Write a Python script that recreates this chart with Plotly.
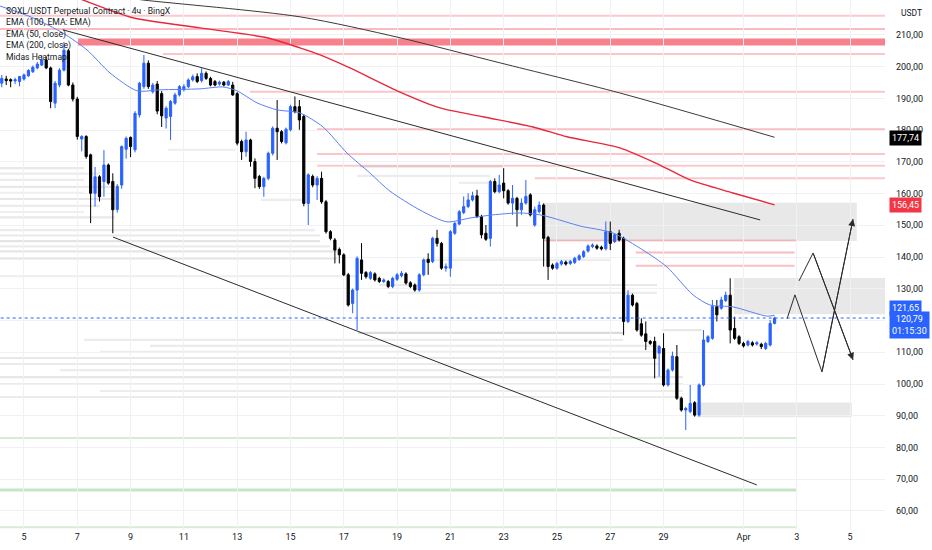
import pandas as pd
import plotly.graph_objects as go

# SOXL/USDT perpetual (BingX), 4h bars, first bar 2025-03-04 04:00
opens = [194.8, 196.1, 195.9, 195.5, 195.3, 196.1, 197.1, 198.4, 199.6, 200.5,
         202.1, 199.6, 188.5, 194.2, 198.9, 205.0, 194.2, 189.8, 177.2, 178.0,
         172.2, 160.1, 165.3, 163.8, 169.0, 163.8, 155.0, 162.7, 174.0, 177.7,
         173.8, 184.8, 193.7, 201.1, 192.1, 194.5, 191.5, 183.8, 184.3, 188.5,
         191.1, 192.7, 193.7, 195.8, 196.9, 195.6, 197.9, 196.3, 195.3, 194.5,
         195.1, 194.2, 194.2, 191.5, 176.4, 173.2, 176.9, 170.1, 165.4, 162.2,
         164.8, 172.7, 180.6, 179.5, 176.0, 180.1, 187.4, 187.4, 184.3, 156.9,
         165.4, 162.7, 164.8, 157.4, 148.0, 145.4, 142.4, 140.7, 134.4, 125.4,
         129.6, 139.1, 135.1, 133.3, 134.7, 133.3, 132.3, 132.3, 130.7, 133.0,
         134.1, 134.7, 131.9, 131.2, 129.6, 134.4, 139.3, 138.6, 145.9, 144.3,
         136.5, 136.5, 147.5, 150.4, 154.0, 155.9, 158.0, 159.3, 152.8, 147.5,
         145.9, 163.8, 160.6, 163.3, 160.9, 157.0, 158.5, 154.9, 157.0, 159.6,
         150.1, 154.3, 156.4, 146.2, 137.5, 136.5, 137.8, 138.4, 138.0, 138.3,
         139.3, 140.2, 141.9, 143.3, 143.5, 143.1, 142.6, 148.0, 144.9, 147.5,
         145.9, 119.7, 128.0, 125.4, 119.0, 115.8, 113.4, 113.4, 109.7, 111.2,
         99.7, 104.4, 108.6, 95.5, 91.8, 91.3, 94.1, 90.2, 99.7, 113.4,
         114.4, 124.4, 123.9, 126.3, 128.0, 117.5, 114.9, 112.8, 112.3, 113.0,
         112.6, 112.5, 111.2, 112.3, 119.1]
highs = [197.4, 197.1, 196.3, 196.5, 197.1, 197.8, 199.2, 200.4, 201.5, 203.6,
         203.2, 200.0, 195.5, 199.5, 207.8, 205.6, 195.0, 190.5, 178.4, 178.4,
         172.6, 168.4, 165.8, 173.7, 169.5, 166.4, 163.0, 175.2, 178.0, 178.0,
         186.0, 195.2, 203.7, 202.0, 194.9, 195.5, 192.3, 187.5, 189.5, 191.8,
         194.2, 194.5, 196.3, 197.5, 197.9, 199.5, 198.5, 196.8, 195.8, 195.6,
         195.5, 195.8, 195.2, 192.0, 177.0, 179.5, 177.3, 171.1, 165.9, 165.3,
         173.2, 181.2, 189.5, 180.0, 180.8, 188.0, 190.6, 189.5, 185.0, 166.4,
         166.0, 165.5, 166.9, 158.0, 148.5, 146.0, 143.0, 141.2, 135.0, 130.1,
         140.2, 144.4, 135.6, 135.6, 135.2, 133.8, 133.3, 132.8, 133.8, 135.0,
         135.6, 135.2, 132.4, 131.7, 134.9, 139.6, 141.2, 146.4, 148.6, 144.8,
         138.0, 148.5, 151.1, 154.8, 159.1, 160.1, 160.6, 161.2, 153.3, 150.1,
         164.3, 164.8, 165.9, 168.0, 161.4, 162.7, 159.0, 158.5, 164.3, 160.1,
         155.9, 157.5, 156.9, 146.7, 138.0, 138.5, 139.1, 138.9, 139.1, 140.1,
         140.9, 142.2, 144.0, 144.3, 144.0, 143.6, 151.2, 151.2, 147.5, 148.6,
         146.4, 129.6, 128.5, 125.9, 120.7, 119.7, 113.9, 114.9, 112.3, 116.0,
         104.9, 110.2, 112.3, 96.0, 92.8, 99.7, 94.6, 100.2, 117.0, 115.4,
         126.5, 126.5, 127.5, 129.1, 133.3, 121.2, 115.4, 113.3, 113.9, 113.5,
         113.5, 113.0, 113.3, 120.2, 121.2]
lows = [193.5, 194.2, 193.5, 194.5, 193.8, 195.6, 196.8, 198.0, 199.2, 200.2,
        199.2, 186.9, 186.9, 193.5, 198.5, 193.8, 189.0, 177.0, 173.3, 171.0,
        150.7, 155.9, 157.5, 159.0, 162.8, 147.5, 154.0, 161.5, 171.0, 171.5,
        173.0, 184.0, 193.0, 193.0, 191.5, 185.0, 181.0, 180.5, 176.9, 188.0,
        190.6, 192.2, 193.2, 195.3, 194.8, 195.0, 195.8, 193.8, 193.8, 194.0,
        193.8, 193.9, 190.8, 175.2, 170.6, 171.6, 168.5, 161.7, 161.5, 159.0,
        164.2, 172.0, 170.6, 175.8, 175.5, 179.6, 185.3, 180.1, 156.0, 150.1,
        162.0, 158.0, 156.8, 147.4, 145.3, 138.0, 138.0, 134.0, 124.4, 122.3,
        117.0, 132.8, 133.2, 132.8, 132.3, 131.8, 131.8, 130.2, 130.2, 132.5,
        133.6, 131.3, 130.2, 129.1, 129.1, 133.9, 134.4, 138.1, 143.3, 136.0,
        135.4, 133.8, 147.0, 150.0, 153.5, 155.4, 157.5, 152.3, 145.9, 145.1,
        143.3, 160.1, 160.1, 158.5, 156.5, 153.3, 149.6, 153.3, 156.5, 152.8,
        149.6, 153.8, 137.0, 132.8, 136.0, 136.0, 137.3, 137.3, 137.5, 137.8,
        138.8, 139.7, 141.4, 142.8, 142.3, 142.1, 142.1, 142.2, 144.4, 144.9,
        115.4, 119.2, 124.4, 116.5, 114.9, 110.7, 112.3, 101.8, 102.3, 99.2,
        99.2, 103.9, 95.0, 91.3, 85.5, 90.8, 89.7, 89.7, 99.2, 112.9,
        113.9, 119.7, 123.4, 125.8, 112.8, 113.9, 112.3, 111.5, 111.8, 111.8,
        112.1, 111.0, 110.7, 111.8, 118.8]
closes = [196.3, 195.6, 195.5, 195.9, 196.9, 197.4, 198.8, 199.8, 200.8, 202.1,
          199.6, 189.0, 194.8, 198.9, 205.2, 194.2, 189.8, 178.0, 178.0, 171.7,
          160.1, 165.3, 159.0, 169.0, 163.3, 154.9, 162.3, 174.8, 177.4, 174.8,
          185.3, 194.8, 201.1, 193.7, 194.2, 186.0, 184.5, 186.9, 189.0, 191.1,
          193.7, 193.7, 195.8, 196.8, 195.3, 197.9, 196.3, 194.2, 194.2, 195.1,
          194.2, 195.3, 191.1, 175.9, 173.2, 176.9, 170.1, 164.8, 162.2, 164.8,
          172.7, 180.6, 179.5, 176.4, 180.3, 187.4, 185.8, 183.2, 156.9, 165.9,
          162.7, 164.8, 157.4, 148.0, 145.9, 142.2, 140.7, 134.4, 124.9, 129.6,
          139.6, 134.9, 133.8, 135.1, 132.8, 132.3, 132.8, 130.7, 133.3, 134.4,
          134.9, 131.8, 130.7, 129.6, 134.4, 139.1, 138.3, 145.9, 144.3, 136.5,
          137.0, 148.0, 150.6, 154.3, 155.9, 158.0, 159.3, 152.8, 147.0, 145.6,
          163.8, 160.6, 162.7, 160.9, 157.0, 158.5, 154.9, 157.0, 159.1, 153.3,
          154.9, 156.4, 145.9, 137.0, 136.5, 138.0, 138.6, 137.8, 138.6, 139.6,
          140.4, 141.7, 143.5, 143.8, 142.8, 142.6, 148.0, 144.3, 147.0, 145.4,
          119.7, 128.0, 124.9, 117.0, 115.4, 113.4, 112.8, 108.1, 111.8, 99.7,
          104.4, 108.8, 95.5, 91.8, 92.3, 93.9, 90.2, 99.7, 113.9, 114.9,
          124.4, 121.8, 126.5, 128.0, 117.0, 114.4, 112.8, 112.0, 113.4, 112.3,
          113.0, 111.8, 112.8, 119.1, 120.79]

# indicator lines
ema50_t = ["2025-03-04 02:24", "2025-03-05 08:00", "2025-03-06 11:00", "2025-03-07 08:40",
           "2025-03-08 05:30", "2025-03-09 05:45", "2025-03-10 02:30", "2025-03-11 14:30",
           "2025-03-12 11:15", "2025-03-12 23:50", "2025-03-13 17:50", "2025-03-14 11:50",
           "2025-03-15 08:30", "2025-03-16 05:20", "2025-03-17 02:50", "2025-03-17 23:30",
           "2025-03-18 17:30", "2025-03-19 20:40", "2025-03-20 20:50", "2025-03-21 17:40",
           "2025-03-22 14:20", "2025-03-23 14:40", "2025-03-24 08:40", "2025-03-24 20:20",
           "2025-03-25 20:40", "2025-03-27 02:20", "2025-03-28 05:30", "2025-03-29 03:00",
           "2025-03-30 02:30", "2025-03-30 17:45", "2025-03-31 14:30", "2025-04-01 21:00",
           "2025-04-02 04:00"]
ema50_v = [219.1, 215.4, 210.6, 205.3, 198.0, 192.4, 192.7, 193.0, 193.6, 192.4,
           188.6, 186.4, 185.4, 181.0, 172.8, 166.5, 160.8, 154.8, 151.1, 152.3,
           153.3, 153.9, 153.3, 152.3, 149.8, 147.6, 142.2, 136.9, 128.1, 124.9,
           124.3, 121.4, 121.65]

ema100_t = ["2025-03-08 14:00", "2025-03-09 11:10", "2025-03-15 08:30", "2025-03-19 02:40",
            "2025-03-22 20:40", "2025-03-27 08:40", "2025-04-02 04:00"]
ema100_v = [222.0, 221.0, 215.7, 209.1, 201.2, 191.7, 177.74]

ema200_t = ["2025-03-06 17:30", "2025-03-07 05:10", "2025-03-09 02:10", "2025-03-11 14:30",
            "2025-03-14 02:50", "2025-03-15 08:30", "2025-03-16 02:40", "2025-03-17 05:30",
            "2025-03-19 02:40", "2025-03-20 14:40", "2025-03-22 05:20", "2025-03-24 02:20",
            "2025-03-25 09:00", "2025-03-27 08:40", "2025-03-28 20:40", "2025-03-29 23:50",
            "2025-03-31 14:30", "2025-04-02 04:00"]
ema200_v = [222.6, 221.0, 215.4, 212.2, 209.1, 205.9, 203.7, 199.6, 192.0, 187.0,
            184.2, 181.0, 177.9, 174.4, 169.0, 164.3, 160.2, 156.45]

# channel
chan_top_t = ["2025-03-06 11:00", "2025-04-01 15:00"]
chan_top_v = [211.6, 151.7]
chan_bot_t = ["2025-03-08 08:10", "2025-04-01 12:00"]
chan_bot_v = [146.3, 68.2]

# projected paths
path_a_t = ["2025-04-02 15:10", "2025-04-02 22:20", "2025-04-03 22:40", "2025-04-05 02:40"]
path_a_v = [120.5, 128.1, 103.8, 152.0]
path_b_t = ["2025-04-03 02:00", "2025-04-03 14:40", "2025-04-05 02:40"]
path_b_v = [132.5, 141.3, 107.6]

# Midas heatmap levels: price, from, to, strength
L, R = "2025-03-03", "2025-04-07"
red_lvl = [216.0, 211.9, 207.8, 204.0, 192.1, 180.3, 172.5, 168.8, 164.8, 145.2, 141.4, 137.3]
red_from = [L, L, "2025-03-07 00:40", "2025-03-10 05:00", "2025-03-13 11:30", "2025-03-16 00:00",
            "2025-03-16 00:00", "2025-03-16 00:00", "2025-03-24 04:00", "2025-03-24 12:00",
            "2025-03-27 23:00", "2025-03-27 23:00"]
red_to = [R, R, R, R, R, R, R, R, R, "2025-04-03 00:00", "2025-04-02 22:00", "2025-04-02 22:00"]
red_str = [0.3, 0.45, 1.0, 0.35, 0.35, 0.4, 0.35, 0.3, 0.3, 0.3, 0.45, 0.4]

green_lvl = [83.0, 66.6, 54.9]
green_from = [L, L, L]
green_to = ["2025-04-03 00:00", "2025-04-03 00:00", "2025-04-03 00:00"]
green_str = [0.5, 0.7, 0.5]

grey_lvl = [168.0, 166.3, 164.3, 162.1, 160.2, 158.3, 156.1, 154.2, 152.5,
            148.5, 146.8, 145.0, 143.4, 141.8, 139.6, 134.0,
            139.1, 131.2, 128.7, 116.1, 117.0,
            113.9, 112.0, 110.1, 108.2, 106.3, 104.4, 102.2, 100.0, 97.8, 95.9,
            168.5, 165.6, 163.4, 158.0, 173.8]
grey_from = [L, L, L, L, L, L, L, L, L,
             L, L, L, L, L, L, L,
             "2025-03-19 21:30", "2025-03-18 07:40", "2025-03-18 15:50", "2025-03-17 13:00",
             "2025-03-28 22:30",
             "2025-03-07 06:00", "2025-03-09 17:30", "2025-03-07 20:30", L, L,
             "2025-03-06 08:30", L, L, "2025-03-07 20:30", L,
             "2025-03-17 14:40", "2025-03-17 12:00", "2025-03-21 07:40", "2025-03-13 21:20",
             "2025-03-10 09:40"]
grey_to = ["2025-03-07 06:00", "2025-03-07 20:30", "2025-03-07 06:00", "2025-03-08 10:00",
           "2025-03-07 06:00", "2025-03-08 10:00", "2025-03-07 20:30", "2025-03-07 06:00",
           "2025-03-08 10:00",
           "2025-03-15 22:00", "2025-03-16 02:40", "2025-03-16 02:40", "2025-03-16 11:30",
           "2025-03-16 17:50", "2025-03-16 17:50", "2025-03-17 12:00",
           "2025-03-27 00:00", "2025-03-28 18:00", "2025-03-28 18:00", "2025-03-27 11:30",
           "2025-03-30 10:30",
           "2025-03-27 11:30", "2025-03-28 20:40", "2025-03-28 20:40", "2025-03-28 20:40",
           "2025-03-28 20:40", "2025-03-27 00:00", "2025-03-29 17:30", "2025-03-29 17:30",
           "2025-03-29 17:30", "2025-03-29 17:30",
           "2025-03-22 23:20", "2025-03-22 11:40", "2025-03-22 09:50", "2025-03-15 11:20",
           "2025-03-12 22:50"]
grey_str = [0.5, 0.4, 0.45, 0.5, 0.35, 0.55, 0.45, 0.35, 0.5,
            0.4, 0.5, 0.6, 0.4, 0.55, 0.6, 0.35,
            0.4, 0.5, 0.4, 0.8, 0.5,
            0.4, 0.45, 0.4, 0.5, 0.45, 0.4, 0.55, 0.45, 0.4, 0.45,
            0.5, 0.4, 0.4, 0.4, 0.35]

# grey zones
zone_lo = [145.1, 122.0, 89.5]
zone_hi = [157.1, 133.4, 94.2]
zone_from = ["2025-03-24 11:20", "2025-03-31 15:20", "2025-03-30 06:00"]
zone_to = ["2025-04-05 06:00", R, "2025-04-05 01:40"]

tick_days = ["2025-03-05", "2025-03-07", "2025-03-09", "2025-03-11", "2025-03-13",
             "2025-03-15", "2025-03-17", "2025-03-19", "2025-03-21", "2025-03-23",
             "2025-03-25", "2025-03-27", "2025-03-29", "2025-04-01", "2025-04-03",
             "2025-04-05"]
tick_text = ["5", "7", "9", "11", "13", "15", "17", "19", "21", "23", "25", "27", "29",
             "Apr", "3", "5"]
price_ticks = [60, 70, 80, 90, 100, 110, 120, 130, 140, 150, 160, 170, 180, 190, 200, 210]

BLUE = "#2962ff"
INK = "#131722"
FONT = "Roboto"

times = pd.date_range("2025-03-04 04:00", periods=len(closes), freq="4h")

shapes = []


def hline(p, x0, x1, color, width):
    shapes.append(dict(type="line", xref="x", yref="y", x0=x0, x1=x1, y0=p, y1=p,
                       line=dict(color=color, width=width), layer="below"))


for p, a, b, s in zip(grey_lvl, grey_from, grey_to, grey_str):
    hline(p, a, b, "rgba(120,120,120,%.2f)" % (0.34 * s), 2.2)
for lo, hi, a, b in zip(zone_lo, zone_hi, zone_from, zone_to):
    shapes.append(dict(type="rect", xref="x", yref="y", x0=a, x1=b, y0=lo, y1=hi,
                       fillcolor="rgba(200,200,200,0.42)", line=dict(width=0), layer="below"))
for p, a, b, s in zip(red_lvl, red_from, red_to, red_str):
    w = 2 + 5 * max(0, s - 0.5) / 0.5
    hline(p, a, b, "rgba(242,54,69,%.2f)" % (0.12 + 0.5 * s), w)
for p, a, b, s in zip(green_lvl, green_from, green_to, green_str):
    hline(p, a, b, "rgba(76,175,80,%.2f)" % (0.45 * s), 2 + 1.0 * (s > 0.6))

fig = go.Figure()
fig.add_trace(go.Candlestick(
    x=times, open=opens, high=highs, low=lows, close=closes,
    increasing=dict(line=dict(color=BLUE, width=1), fillcolor=BLUE),
    decreasing=dict(line=dict(color="#000000", width=1), fillcolor="#000000"),
    whiskerwidth=0, hoverinfo="skip"))

fig.add_trace(go.Scatter(x=ema50_t, y=ema50_v, mode="lines",
                         line=dict(color="#5a7ff2", width=1, shape="spline", smoothing=0.7)))
fig.add_trace(go.Scatter(x=ema100_t, y=ema100_v, mode="lines",
                         line=dict(color="#3a3a3a", width=1, shape="spline", smoothing=0.8)))
fig.add_trace(go.Scatter(x=ema200_t, y=ema200_v, mode="lines",
                         line=dict(color="#e8283c", width=1.4, shape="spline", smoothing=0.7)))
for tt, vv in [(chan_top_t, chan_top_v), (chan_bot_t, chan_bot_v)]:
    fig.add_trace(go.Scatter(x=tt, y=vv, mode="lines", line=dict(color="#2b2b2b", width=1)))
for tt, vv in [(path_a_t, path_a_v), (path_b_t, path_b_v)]:
    fig.add_trace(go.Scatter(x=tt, y=vv, mode="lines", line=dict(color="#2b2b2b", width=1)))

# current price dotted line
fig.add_trace(go.Scatter(x=[L, R], y=[closes[-1]] * 2, mode="lines",
                         line=dict(color=BLUE, width=1, dash="dot")))

ann = []
for tt, vv in [(path_a_t, path_a_v), (path_b_t, path_b_v)]:
    ann.append(dict(x=tt[-1], y=vv[-1], ax=tt[-2], ay=vv[-2], xref="x", yref="y",
                    axref="x", ayref="y", showarrow=True, arrowhead=2, arrowsize=1.4,
                    arrowwidth=1, arrowcolor="#2b2b2b", text=""))

legend = ["SOXL/USDT Perpetual Contract · 4ч · BingX", "EMA (100, EMA: EMA)",
          "EMA (50, close)", "EMA (200, close)", "Midas Heatmap"]
for k, t in enumerate(legend):
    ann.append(dict(text=t, xref="paper", yref="paper", x=0, y=1, xanchor="left",
                    yanchor="middle", xshift=4, yshift=-(11 + 11.5 * k), showarrow=False,
                    font=dict(family=FONT, size=8.6, color=INK)))

ann.append(dict(text="USDT", xref="paper", yref="paper", x=1, y=1, xanchor="left",
                yanchor="top", xshift=14, yshift=-6, showarrow=False,
                font=dict(family=FONT, size=8.5, color=INK)))


def badge(val, text, color, shift):
    ann.append(dict(text=text, xref="paper", yref="y", x=1, y=val, xanchor="left",
                    yanchor="middle", xshift=4, yshift=shift, showarrow=False,
                    bgcolor=color, borderpad=2,
                    font=dict(family=FONT, size=9, color="#ffffff")))


badge(ema100_v[-1], "177,74", "#000000", -1)
badge(ema200_v[-1], "156,45", "#f23645", 0)
badge(ema50_v[-1], "121,65", BLUE, 7)
badge(closes[-1], "120,79<br>01:15:30", BLUE, -7)

fig.update_layout(
    width=932, height=550,
    margin=dict(l=0, r=47, t=0, b=20),
    paper_bgcolor="white", plot_bgcolor="white",
    showlegend=False,
    shapes=shapes,
    annotations=ann,
    font=dict(family=FONT, color=INK),
    xaxis=dict(type="date", range=["2025-03-04 02:24", "2025-04-06 07:26"],
               rangeslider=dict(visible=False), tickvals=tick_days, ticktext=tick_text,
               showgrid=True, gridcolor="#f0f1f4", zeroline=False, showline=False,
               ticks="", tickfont=dict(family=FONT, size=9, color=INK)),
    yaxis=dict(side="right", range=[54.0, 221.0], tickvals=price_ticks,
               ticktext=[("%.2f" % v).replace(".", ",") if v != 120 else ""
                         for v in price_ticks],
               ticklabelstandoff=10,
               showgrid=True, gridcolor="#f0f1f4", zeroline=False, showline=False,
               ticks="", tickfont=dict(family=FONT, size=9, color=INK)),
)

fig.write_html("out.html", config={"displayModeBar": False},
               post_script="document.body.style.margin='0';")
